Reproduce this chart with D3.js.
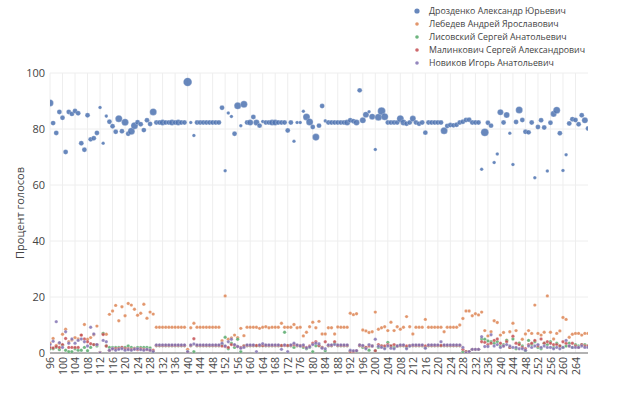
<!DOCTYPE html>
<html><head><meta charset="utf-8">
<script src="https://cdn.jsdelivr.net/npm/d3@7/dist/d3.min.js"></script>
<style>body{margin:0;background:#fff;} svg{display:block;font-family:"Open Sans",sans-serif;}</style>
</head><body><svg id="c" width="624" height="396"></svg>
<script>
const districts = d3.range(96, 269);
const seriesNames = ["Дрозденко Александр Юрьевич","Лебедев Андрей Ярославович","Лисовский Сергей Анатольевич","Малинкович Сергей Александрович","Новиков Игорь Анатольевич"];
const colors = ["#4c72b0","#dd8452","#55a868","#c44e52","#8172b3"];
const xTicks = d3.range(96, 268, 4);
const yTicks = [0,20,40,60,80,100];

const drozdenko = [
89.3,82.1,78.6,86.1,84.0,71.8,86.1,85.4,86.4,85.6,
74.9,72.6,84.9,76.3,76.7,78.6,87.7,74.9,84.6,82.6,
81.0,79.0,83.7,79.2,82.4,78.3,79.2,81.2,82.4,81.7,
79.6,83.1,81.8,86.1,82.3,82.3,82.3,82.3,82.3,82.3,
82.3,82.3,82.3,82.3,96.8,82.3,77.7,82.3,82.3,82.3,
82.3,82.3,82.3,82.3,82.3,87.6,65.1,85.7,84.5,78.3,
88.3,81.2,88.8,82.3,82.3,84.3,82.3,81.2,82.7,82.3,
82.3,82.3,82.3,82.3,82.3,82.3,79.5,82.3,75.6,82.3,
82.3,86.3,84.3,82.5,80.7,77.1,81.2,88.2,82.9,82.3,
82.3,82.3,82.3,82.3,82.3,82.3,83.1,82.8,82.3,93.8,
83.1,85.1,86.2,84.4,72.7,84.2,86.4,84.4,82.3,82.3,
82.3,82.3,83.7,82.3,81.9,82.3,83.7,82.3,81.9,82.3,
78.7,82.3,82.3,82.3,82.3,82.3,79.4,81.1,81.4,81.3,
81.5,82.3,82.6,83.2,83.3,82.3,82.3,82.3,65.6,78.8,
82.2,81.2,68.0,71.1,86.0,82.3,85.0,78.5,67.3,82.5,
86.8,83.2,79.0,78.8,82.3,62.6,80.7,83.1,80.5,65.0,
82.2,85.4,86.7,78.5,65.2,70.8,82.0,83.5,83.2,81.7,
84.9,83.1,80.2];
// relative district size (voters, arbitrary units)
const voters = [
4,2,2,2,2,2,2,2,2,2,
2,2,2,2,2,2,1,1,1,2,
2,2,4,2,4,2,4,4,2,2,
2,2,2,4,2,2,3,2,2,3,
2,3,2,2,6,1,1,2,2,2,
2,2,2,2,2,2,1,1,1,2,
4,1,4,2,3,2,3,2,1,2,
2,3,3,2,2,2,2,2,1,1,
1,1,4,4,2,4,2,2,1,2,
2,2,2,2,2,3,2,2,3,2,
3,3,1,3,1,4,5,4,2,2,
2,2,4,3,2,2,3,2,2,2,
2,2,2,2,2,2,4,2,2,2,
2,2,2,2,2,2,2,2,1,5,
2,2,1,1,3,2,3,1,1,2,
4,2,2,2,2,1,2,2,2,1,
2,3,4,2,1,1,2,2,2,2,
2,3,2];
const lebedev = [
3.5,5.2,2.7,3.5,6.7,8.5,4.0,4.6,5.5,5.0,
6.4,10.2,4.9,5.5,6.5,9.6,0.2,7.0,6.7,13.8,
15.0,17.0,11.5,16.5,13.3,17.7,17.1,15.6,13.5,14.2,
17.4,12.4,14.6,13.9,9.2,9.2,9.2,9.2,9.2,9.2,
9.2,9.2,9.2,9.2,1.3,9.0,10.6,9.2,9.2,9.2,
9.2,9.2,9.2,9.2,9.2,4.4,20.4,4.9,5.4,6.4,
5.5,8.8,6.2,9.2,9.2,9.2,9.2,8.8,9.2,9.4,
9.0,9.2,9.2,9.2,10.6,9.2,9.2,9.2,10.2,9.0,
9.2,6.1,7.4,9.4,11.0,9.0,11.3,6.8,6.8,9.0,
9.0,6.8,9.3,9.2,9.2,9.2,14.2,13.7,14.0,2.9,
8.2,7.9,7.3,7.6,14.6,8.5,9.0,9.4,8.0,11.0,
8.0,9.4,8.5,9.2,13.0,9.4,6.8,9.2,9.2,9.2,
12.0,9.2,9.2,9.2,9.2,9.2,7.6,9.2,9.2,9.2,
9.2,10.0,12.3,15.0,15.0,13.3,14.0,13.6,14.6,8.0,
6.1,7.6,11.5,10.9,6.4,7.3,4.6,7.6,10.6,8.0,
3.5,4.9,6.8,8.0,7.0,17.1,7.0,6.4,7.4,20.4,
7.4,5.0,7.0,7.9,12.7,12.0,5.6,6.7,7.0,7.0,
6.4,7.0,7.0];
const lisovsky = [
1.5,1.5,2.0,1.2,2.8,1.0,0.5,0.5,1.5,1.0,
1.0,2.0,0.8,2.0,3.0,2.5,0.0,7.0,2.5,2.0,
2.0,2.0,2.0,2.0,2.0,2.5,2.0,1.7,2.0,2.0,
2.0,2.0,1.8,0.5,2.6,2.6,2.6,2.6,2.6,2.6,
2.6,2.6,2.6,2.6,0.5,2.6,0.5,2.6,2.6,2.6,
2.6,2.6,2.6,2.6,2.6,3.0,5.6,1.5,3.5,2.0,
4.9,0.5,2.5,2.6,2.6,2.6,2.6,2.6,2.6,2.6,
2.6,2.6,2.6,2.6,2.6,7.4,2.6,2.6,2.0,2.6,
2.6,2.0,1.5,2.0,0.5,2.6,2.6,2.0,0.8,2.6,
2.6,3.5,2.6,2.6,2.6,2.6,0.5,0.5,0.5,2.6,
2.0,2.0,1.0,2.5,0.8,2.0,2.5,2.0,3.8,2.5,
2.0,2.5,2.6,2.6,2.0,2.6,2.6,2.6,2.6,2.6,
2.0,2.6,2.6,2.6,2.6,2.6,2.6,2.6,2.6,2.6,
2.6,2.6,0.5,0.5,0.5,1.3,1.3,1.3,5.0,4.9,
4.3,4.0,3.5,4.0,2.5,3.0,4.5,2.0,5.0,1.5,
3.5,2.5,0.8,4.5,3.0,4.0,2.0,1.5,3.5,3.0,
4.0,2.0,3.5,2.5,2.0,2.5,3.5,2.0,3.0,2.5,
3.0,3.0,2.5];
const malinkovich = [
2.0,1.8,2.3,2.0,3.0,5.2,2.0,2.0,2.0,2.0,
6.4,5.0,4.0,3.3,3.0,3.0,0.0,6.6,2.5,0.9,
1.5,1.5,1.6,2.0,1.5,1.5,1.3,1.5,1.2,1.5,
1.3,1.2,1.0,1.0,2.7,2.7,2.7,2.7,2.7,2.7,
2.7,2.7,2.7,2.7,0.2,2.7,5.1,2.7,2.7,2.7,
2.7,2.7,2.7,2.7,2.7,2.5,2.3,2.0,3.0,2.8,
2.3,2.0,2.5,2.7,2.7,2.7,2.7,2.7,2.7,2.7,
2.7,2.7,2.7,2.7,2.7,2.7,2.7,2.7,3.0,2.7,
2.7,2.5,2.0,2.5,3.5,4.0,2.7,2.0,4.0,2.7,
2.7,4.0,2.7,2.7,2.7,2.7,0.5,0.5,0.8,2.7,
2.5,2.0,2.5,2.5,0.8,3.0,2.5,2.5,3.0,2.5,
3.0,2.5,2.7,2.7,2.5,2.7,2.7,2.7,2.7,2.7,
2.5,2.7,2.7,2.7,2.7,2.7,2.7,2.7,2.7,2.7,
2.7,2.7,1.3,0.5,0.5,1.3,1.3,1.3,4.0,3.8,
3.0,3.5,4.5,5.0,3.5,2.5,4.0,2.0,6.0,3.5,
3.0,2.0,1.5,3.0,3.5,4.5,2.5,5.0,3.5,4.0,
3.5,3.0,3.0,2.5,4.0,3.5,2.5,3.5,2.5,2.0,
3.0,2.5,2.5];
const novikov = [
3.0,4.2,11.2,3.7,2.0,7.6,3.5,5.0,3.5,4.5,
5.0,4.0,2.5,9.2,6.8,3.0,0.0,4.5,4.0,1.0,
1.5,1.0,1.3,1.5,1.0,1.2,1.0,1.3,1.5,1.2,
1.0,1.3,1.0,0.5,2.9,2.9,2.9,2.9,2.9,2.9,
2.9,2.9,2.9,2.9,0.5,2.9,3.2,2.9,2.9,2.9,
2.9,2.9,2.9,2.9,2.9,3.5,2.5,4.0,4.9,3.0,
2.3,1.7,2.0,2.9,2.9,2.9,0.5,2.9,3.3,2.9,
2.9,2.9,2.9,2.9,1.3,2.9,0.5,2.9,3.5,2.9,
2.5,2.9,1.8,2.2,3.0,3.5,3.3,1.7,1.5,2.9,
2.9,3.0,2.9,2.9,2.9,2.9,1.0,0.8,0.8,2.9,
2.7,1.5,3.0,2.5,4.9,2.4,2.0,1.5,2.5,1.7,
1.5,2.5,2.9,2.9,1.5,2.5,2.9,2.9,2.9,2.9,
1.7,2.9,2.9,2.9,2.9,4.0,2.9,2.9,2.9,2.9,
2.9,2.9,2.0,0.0,0.5,1.3,1.3,1.3,5.8,2.3,
2.3,6.5,2.5,3.0,2.0,2.5,3.0,2.5,2.0,2.0,
1.5,1.5,1.0,2.5,2.0,2.5,3.0,2.0,2.5,2.0,
2.0,1.5,2.0,1.5,2.0,4.5,2.5,2.0,2.0,2.0,
2.5,2.0,2.0];

const series = [drozdenko, lebedev, lisovsky, malinkovich, novikov];

const svg = d3.select("#c");
const W = 624, H = 396;
const m = {left: 50, right: 36, top: 73, bottom: 43};
const x = d3.scaleLinear().domain([96, 268]).range([m.left, W - m.right]);
const y = d3.scaleLinear().domain([0, 100]).range([H - m.bottom, m.top]);
const rBlue = d3.scaleSqrt().domain([0, 6]).range([0, 4.3]);

svg.append("defs").append("clipPath").attr("id","clip")
  .append("rect").attr("x", m.left).attr("y", m.top).attr("width", W-m.left-m.right).attr("height", H-m.top-m.bottom);

// grid
const g = svg.append("g");
g.selectAll("line.vx").data(xTicks).join("line")
  .attr("x1", d=>x(d)).attr("x2", d=>x(d)).attr("y1", m.top).attr("y2", H-m.bottom)
  .attr("stroke", "#eeeeee").attr("stroke-width", 1);
g.selectAll("line.hy").data(yTicks.filter(d=>d>0)).join("line")
  .attr("x1", m.left).attr("x2", W-m.right).attr("y1", d=>y(d)).attr("y2", d=>y(d))
  .attr("stroke", "#eeeeee").attr("stroke-width", 1);

// axes
const xAxis = d3.axisBottom(x).tickValues(xTicks).tickSize(0).tickPadding(3).tickFormat(d3.format("d"));
const xa = svg.append("g").attr("transform", `translate(0,${H-m.bottom})`).call(xAxis);
xa.select(".domain").remove();
xa.selectAll("text").attr("transform", "rotate(-90)").attr("text-anchor", "end")
  .attr("x", -4).attr("y", 0).attr("dy", "0.35em")
  .attr("fill", "#444").attr("font-size", 10.5).attr("font-family", "Open Sans, sans-serif");

const yAxis = d3.axisLeft(y).tickValues(yTicks).tickSize(0).tickPadding(5);
const ya = svg.append("g").attr("transform", `translate(${m.left},0)`).call(yAxis);
ya.select(".domain").remove();
ya.selectAll("text").attr("fill", "#444").attr("font-size", 11).attr("font-family", "Open Sans, sans-serif");

svg.append("line").attr("x1", m.left).attr("x2", W-m.right).attr("y1", y(0)).attr("y2", y(0))
  .attr("stroke", "#999").attr("stroke-width", 1.5);

svg.append("text").attr("transform", `translate(24,${(m.top + H - m.bottom)/2}) rotate(-90)`)
  .attr("text-anchor", "middle").attr("font-size", 11).attr("fill", "#444").text("Процент голосов");

// points
const pts = svg.append("g").attr("clip-path", "url(#clip)");
series.forEach((vals, si) => {
  pts.append("g").selectAll("circle").data(districts.map((d,i)=>({d, v: vals[i], w: voters[i]}))).join("circle")
    .attr("cx", p=>x(p.d)).attr("cy", p=>y(p.v))
    .attr("r", p => si === 0 ? rBlue(p.w) : 1.7)
    .attr("fill", colors[si]).attr("fill-opacity", 0.85)
    .attr("stroke", "#fff").attr("stroke-width", 0.4).attr("stroke-opacity", 0.6);
});

// legend
const lg = svg.append("g").attr("transform", "translate(417,11)");
seriesNames.forEach((n, i) => {
  const row = lg.append("g").attr("transform", `translate(0,${i*13})`);
  row.append("circle").attr("r", i === 0 ? 2.6 : 1.8).attr("fill", colors[i]).attr("fill-opacity", 0.85);
  row.append("text").attr("x", 12).attr("dy", "0.35em").attr("font-size", 8.8).attr("fill", "#444").text(n);
});
</script>
</body></html>
